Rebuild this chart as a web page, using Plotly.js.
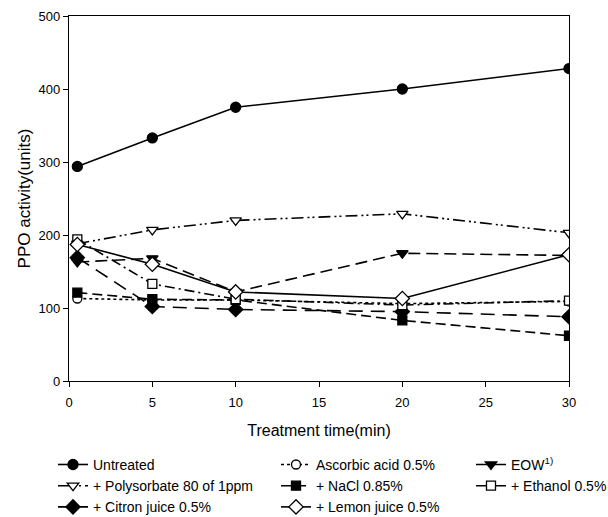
<!DOCTYPE html>
<html>
<head>
<meta charset="utf-8">
<script src="https://cdn.plot.ly/plotly-3.0.1.min.js"></script>
<style>html,body{margin:0;padding:0;background:#fff;}#chart{width:608px;height:517px;}</style>
</head>
<body>
<div id="chart"></div>
<script>
const times = [0.5, 5, 10, 20, 30];
const untreated   = [294, 333, 375, 400, 428];
const polysorbate = [188, 207, 220, 229, 203];
const ascorbic    = [113, 111, 111, 106, 109];
const eow         = [163, 168, 122, 175, 172];
const nacl        = [121, 112, 111, 83, 62];
const ethanol     = [194, 133, 112, 104, 110];
const citron      = [169, 102, 98, 95, 88];
const lemon       = [187, 160, 122, 113, 173];

const names = {
  untreated: 'Untreated',
  polysorbate: '+ Polysorbate 80 of 1ppm',
  ascorbic: 'Ascorbic acid 0.5%',
  eow: 'EOW<sup>1)</sup>',
  nacl: '+ NaCl 0.85%',
  ethanol: '+ Ethanol 0.5%',
  citron: '+ Citron juice 0.5%',
  lemon: '+ Lemon juice 0.5%'
};

function tr(y, name, symbol, size, filled, dash, legend, group, rank) {
  return {
    x: times, y: y, name: name, type: 'scatter', mode: 'lines+markers',
    legend: legend, legendgroup: group, legendrank: rank,
    line: {color: '#000', width: 1.6, dash: dash},
    marker: {symbol: symbol, size: size,
      color: filled ? '#000' : '#fff', line: {color: '#000', width: 1.3}}
  };
}

const data = [
  tr(ascorbic, names.ascorbic, 'circle', 9, false, 'dot', 'legend2', 'b', 1),
  tr(nacl, names.nacl, 'square', 9, true, '10px,5px', 'legend2', 'c', 2),
  tr(citron, names.citron, 'diamond', 11, true, '14px,8px', 'legend', 'g', 3),
  tr(eow, names.eow, 'triangle-down', 10, true, '12px,6px', 'legend3', 'd', 1),
  tr(ethanol, names.ethanol, 'square', 9, false, '10px,4px,2px,4px', 'legend3', 'e', 2),
  tr(polysorbate, names.polysorbate, 'triangle-down', 10, false, '12px,4px,2px,3px,2px,4px', 'legend', 'f', 2),
  tr(lemon, names.lemon, 'diamond', 11, false, 'solid', 'legend2', 'h', 3),
  tr(untreated, names.untreated, 'circle', 10, true, 'solid', 'legend', 'a', 1)
];

const legFont = {family: 'Liberation Sans, Arial, sans-serif', size: 14, color: '#000'};
const legBase = {orientation: 'v', yanchor: 'top', xanchor: 'left', font: legFont,
  bgcolor: 'rgba(0,0,0,0)', borderwidth: 0, tracegroupgap: 5, traceorder: 'normal'};
const legY = -0.186;

const layout = {
  width: 608, height: 517,
  margin: {l: 69, r: 39, t: 16, b: 136, autoexpand: false},
  paper_bgcolor: '#fff', plot_bgcolor: '#fff',
  font: {family: 'Liberation Sans, Arial, sans-serif', size: 13, color: '#000'},
  xaxis: {
    range: [0, 30], tickvals: [0, 5, 10, 15, 20, 25, 30],
    ticks: 'outside', ticklen: 5, tickwidth: 1, tickcolor: '#000',
    ticklabelstandoff: 4,
    showline: true, linecolor: '#000', linewidth: 1.2, mirror: true,
    showgrid: false, zeroline: false,
    tickfont: {size: 13},
    title: {text: 'Treatment time(min)', font: {size: 16}, standoff: 16}
  },
  yaxis: {
    range: [0, 500], tickvals: [0, 100, 200, 300, 400, 500],
    ticks: 'outside', ticklen: 5, tickwidth: 1, tickcolor: '#000',
    showline: true, linecolor: '#000', linewidth: 1.2, mirror: true,
    showgrid: false, zeroline: false,
    tickfont: {size: 13},
    title: {text: 'PPO activity(units)', font: {size: 17}, standoff: 3}
  },
  legend: Object.assign({}, legBase, {x: -0.032, y: legY}),
  legend2: Object.assign({}, legBase, {x: 0.414, y: legY}),
  legend3: Object.assign({}, legBase, {x: 0.804, y: legY}),
  showlegend: true
};

Plotly.newPlot('chart', data, layout, {displayModeBar: false, staticPlot: true});
</script>
</body>
</html>
